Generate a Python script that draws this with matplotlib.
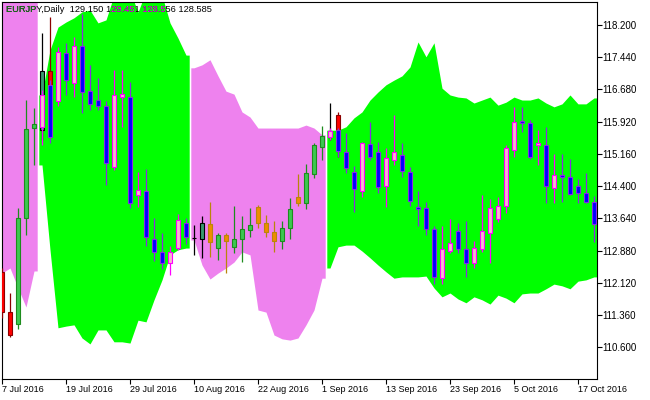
import numpy as np
import matplotlib.pyplot as plt
from matplotlib.transforms import Bbox, TransformedBbox

# EURJPY daily bars, 7 Jul 2016 .. 19 Oct 2016 (indicator candles)
opens = [112.38, 111.43, 111.15, 113.65, 115.77, 115.80, 116.79, 116.41, 117.54, 116.83,
         117.71, 116.64, 116.43, 116.29, 114.85, 116.50, 116.50, 114.19, 114.29, 113.15,
         112.85, 112.59, 112.94, 113.54, 113.18, 113.15, 113.51, 112.94, 113.24, 112.97,
         113.15, 113.37, 113.91, 113.54, 113.32, 113.11, 113.41, 114.14, 114.00, 114.69,
         115.32, 115.56, 115.72, 115.21, 114.73, 114.29, 115.40, 115.21, 114.40, 115.02,
         115.14, 114.73, 113.91, 113.89, 113.39, 112.23, 112.87, 113.34, 112.92, 112.59,
         112.92, 113.30, 113.63, 113.93, 115.25, 115.94, 115.89, 115.37, 115.37, 114.36,
         114.66, 114.62, 114.40, 114.24, 114.03]
highs = [112.47, 111.88, 113.89, 116.43, 116.24, 116.67, 116.90, 117.68, 117.78, 117.92,
         118.46, 117.26, 116.95, 116.41, 117.14, 117.14, 116.86, 114.73, 114.80, 113.65,
         113.30, 112.99, 113.74, 113.65, 113.48, 113.70, 114.03, 113.30, 113.30, 113.93,
         113.70, 113.89, 113.96, 113.72, 113.58, 113.58, 114.12, 114.69, 114.92, 115.42,
         115.82, 115.77, 115.77, 115.65, 114.88, 115.44, 115.91, 115.44, 115.30, 116.08,
         115.42, 114.85, 114.29, 114.03, 113.46, 113.46, 113.63, 113.53, 113.58, 113.11,
         114.19, 114.10, 114.14, 115.37, 116.27, 116.27, 115.96, 115.72, 115.80, 115.16,
         115.16, 115.04, 114.57, 114.71, 114.17]
lows = [111.29, 110.84, 111.03, 113.25, 114.90, 115.37, 115.42, 116.29, 116.55, 116.50,
        116.13, 116.20, 116.20, 114.43, 114.78, 115.80, 113.89, 113.91, 112.99, 112.64,
        112.45, 112.31, 112.90, 113.04, 112.78, 112.71, 112.73, 112.66, 112.35, 112.82,
        112.61, 113.20, 113.41, 113.20, 112.85, 112.92, 113.15, 113.93, 113.86, 114.59,
        115.02, 115.49, 115.09, 114.71, 113.79, 114.14, 115.02, 114.24, 113.91, 114.90,
        114.62, 113.93, 113.46, 113.24, 112.09, 112.09, 112.82, 112.82, 112.26, 112.47,
        112.85, 112.59, 113.56, 113.77, 115.09, 115.68, 115.04, 114.90, 114.00, 114.00,
        114.03, 114.19, 114.00, 114.00, 113.08]
closes = [111.43, 110.89, 113.65, 115.75, 115.87, 116.55, 115.56, 117.56, 116.90, 117.71,
          116.62, 116.34, 116.29, 114.95, 116.55, 116.57, 114.00, 114.31, 113.20, 112.85,
          112.59, 112.85, 113.60, 113.20, 113.17, 113.53, 113.08, 113.24, 113.11, 113.15,
          113.39, 113.48, 113.53, 113.32, 113.11, 113.41, 113.86, 114.00, 114.71, 115.37,
          115.58, 115.70, 115.23, 114.83, 114.33, 115.42, 115.09, 114.38, 115.06, 115.21,
          114.76, 114.05, 113.86, 113.39, 112.26, 112.92, 113.06, 112.92, 112.59, 112.94,
          113.34, 113.89, 113.93, 115.30, 115.91, 115.89, 115.09, 115.42, 114.40, 114.66,
          114.62, 114.22, 114.24, 114.03, 113.51]
kinds = ['r', 'r', 'g', 'g', 'g', 'p', 'b', 'p', 'b', 'p',
         'b', 'b', 'b', 'b', 'p', 'p', 'b', 'p', 'b', 'b',
         'b', 'p', 'p', 'b', 'k', 't', 'o', 'g', 'o', 'g',
         'g', 'g', 'o', 'o', 'o', 'g', 'g', 'o', 'g', 'g',
         'g', 'p', 'b', 'b', 'b', 'p', 'b', 'b', 'p', 'p',
         'b', 'b', 'b', 'b', 'b', 'p', 'p', 'b', 'b', 'p',
         'p', 'p', 'p', 'p', 'p', 'b', 'b', 'p', 'b', 'p',
         'b', 'b', 'b', 'b', 'b']

# chart's own bars that peek out from under the indicator candles
real_idx = [5, 6, 41, 42]
real_open = [115.72, 117.12, 115.56, 116.08]
real_high = [118.01, 118.39, 116.36, 116.15]
real_low = [115.49, 116.20, 115.49, 115.09]
real_close = [117.12, 116.43, 115.70, 115.72]
real_kinds = ['t', 'r', 't', 'r']

# channel band (v = violet state, g = green state)
band_state = ['v'] * 5 + ['g'] * 19 + ['v'] * 17 + ['g'] * 34
band_upper = [119.0, 119.0, 119.0, 119.0, 119.0,
              116.55, 117.61, 118.15, 118.27, 118.37, 118.51, 118.55, 118.25, 118.32, 118.90,
              118.95, 119.00, 118.50, 119.00, 119.00, 118.90, 118.25, 117.89, 117.49,
              117.19, 117.26, 117.38, 117.00, 116.64, 116.57, 116.15, 116.03, 115.77, 115.77,
              115.77, 115.77, 115.77, 115.77, 115.84, 115.77, 115.61,
              115.72, 115.72, 115.80, 116.01, 116.15, 116.43, 116.62, 116.79, 116.90, 117.00,
              117.21, 117.80, 117.45, 117.78, 116.71, 116.55, 116.50, 116.48, 116.36, 116.43,
              116.50, 116.31, 116.38, 116.50, 116.43, 116.43, 116.48, 116.36, 116.27, 116.34,
              116.55, 116.34, 116.34, 116.48]
band_lower = [112.35, 112.47, 112.00, 111.55, 112.40,
              114.90, 112.90, 111.06, 111.10, 111.13, 110.82, 110.68, 111.01, 111.01, 110.73,
              110.73, 110.70, 111.24, 111.20, 111.72, 112.19, 112.78, 112.90, 112.94,
              113.13, 112.54, 112.21, 112.35, 112.47, 112.61, 112.85, 112.78, 111.48, 111.43,
              110.89, 110.80, 110.77, 110.82, 111.13, 111.48, 112.23,
              112.47, 112.97, 113.01, 113.01, 112.87, 112.71, 112.54, 112.38, 112.23, 112.26,
              112.26, 112.26, 112.28, 112.00, 111.79, 111.88, 111.74, 111.65, 111.79, 111.72,
              111.62, 111.83, 111.76, 111.65, 111.86, 111.88, 111.88, 111.98, 112.09, 112.05,
              111.98, 112.16, 112.19, 112.26]

y_ticks = [110.6, 111.36, 112.12, 112.88, 113.64, 114.4, 115.16, 115.92, 116.68, 117.44, 118.2]
x_labels = ['7 Jul 2016', '19 Jul 2016', '29 Jul 2016', '10 Aug 2016', '22 Aug 2016',
            '1 Sep 2016', '13 Sep 2016', '23 Sep 2016', '5 Oct 2016', '17 Oct 2016']
title = 'EURJPY,Daily  129.150 129.451 128.556 128.585'

STYLE = {
    'r': ('#ff0000', '#8b0000'),
    'g': ('#3cc850', '#1e8c1e'),
    'o': ('#f08c00', '#b8860b'),
    'p': ('#f4b8cc', '#ff00ff'),
    'b': ('#0000ff', '#8a2be2'),
    'k': ('#ffffff', '#000000'),
    't': ('#3a9a70', '#000000'),
}
FILL = {'v': '#ee82ee', 'g': '#00ff00'}
INVERSE = {'v': '#117d11', 'g': '#ff00ff'}


def draw_candles(ax, idx, o, h, l, c, kk, z):
    for i, op, hi, lo, cl, k in zip(idx, o, h, l, c, kk):
        body, edge = STYLE[k]
        ax.vlines(i, lo, hi, color=edge, lw=0.9, zorder=z)
        ax.bar(i, max(abs(cl - op), 0.012), width=0.5, bottom=min(op, cl),
               color=body, edgecolor=edge, linewidth=0.8, zorder=z + 0.1)


n = len(opens)
fig = plt.figure(figsize=(6.5, 4), dpi=100)
ax = fig.add_axes([2 / 650, 21 / 400, 595 / 650, 377 / 400])
ax.set_xlim(0, 74.375)
ax.set_ylim(109.853, 118.742)

# band segments
upper = np.array(band_upper)
lower = np.array(band_lower)
segments = []
i = 0
while i < n:
    j = i
    while j + 1 < n and band_state[j + 1] == band_state[i]:
        j += 1
    segments.append((i, j, band_state[i]))
    xs = np.r_[i - 0.4, np.arange(i, j + 1), j + 0.4]
    up = np.r_[upper[i], upper[i:j + 1], upper[j]]
    lo = np.r_[lower[i], lower[i:j + 1], lower[j]]
    ax.fill_between(xs, lo, up, color=FILL[band_state[i]], lw=0, zorder=1)
    i = j + 1

draw_candles(ax, real_idx, real_open, real_high, real_low, real_close, real_kinds, 2)
draw_candles(ax, range(n), opens, highs, lows, closes, kinds, 3)

# axes look
for sp in ax.spines.values():
    sp.set_color('black')
    sp.set_linewidth(0.8)
ax.set_yticks(y_ticks)
ax.set_yticklabels([f'{v:.3f}' for v in y_ticks])
ax.set_xticks(np.arange(0, n, 8))
ax.set_xticklabels(x_labels)
ax.yaxis.tick_right()
ax.tick_params(axis='y', direction='out', length=3.5, width=0.8, pad=0.5, labelsize=7)
ax.tick_params(axis='x', direction='out', length=3.5, width=0.8, pad=0.5, labelsize=6.5)
for lbl in ax.get_xticklabels() + ax.get_yticklabels():
    lbl.set_family('Liberation Sans')
for lbl in ax.get_xticklabels():
    lbl.set_ha('left')

# title, drawn inverted over the band like the terminal does
kw = dict(transform=ax.transAxes, fontsize=6.7, family='Liberation Sans',
          va='center', ha='left', zorder=10)
ax.text(0.0067, 0.981, title, color='black', **kw)
text_level = 118.58
for s0, s1, st in segments:
    xf = np.linspace(s0 - 0.4, s1 + 0.4, 400)
    uf = np.interp(xf, np.r_[s0 - 0.4, np.arange(s0, s1 + 1), s1 + 0.4],
                   np.r_[upper[s0], upper[s0:s1 + 1], upper[s1]])
    mask = uf > text_level
    k = 0
    while k < len(xf):
        if mask[k]:
            m = k
            while m + 1 < len(xf) and mask[m + 1]:
                m += 1
            t = ax.text(0.0067, 0.981, title, color=INVERSE[st], clip_on=True, **kw)
            t.set_clip_box(TransformedBbox(Bbox([[xf[k], 100], [xf[m], 130]]), ax.transData))
            k = m + 1
        else:
            k += 1

fig.savefig('out.png', dpi=100, facecolor='white')
